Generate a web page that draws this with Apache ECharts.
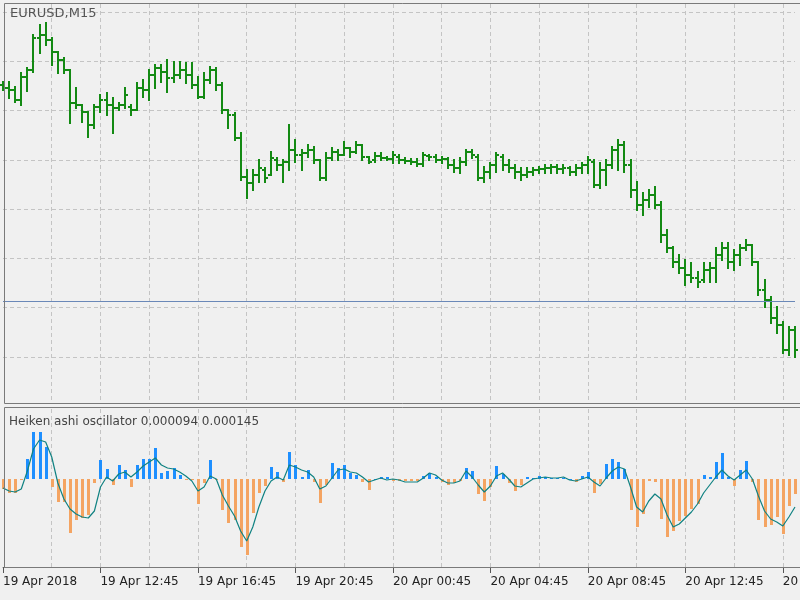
<!DOCTYPE html>
<html>
<head>
<meta charset="utf-8">
<title>EURUSD,M15</title>
<script src="https://cdn.jsdelivr.net/npm/echarts@6/dist/echarts.min.js"></script>
<style>
  html, body { margin: 0; padding: 0; background: #f0f0f0; }
  #chart { width: 800px; height: 600px; }
</style>
</head>
<body>
<div id="chart"></div>
<script>
// EURUSD M15 bars, 19 Apr 08:45 onwards
const opens = [
  1.23678, 1.23669, 1.23663, 1.23632, 1.23702, 1.23724, 1.23821, 1.23830, 1.23815, 1.23778,
  1.23754, 1.23724, 1.23623, 1.23617, 1.23596, 1.23556, 1.23611, 1.23632, 1.23617, 1.23608,
  1.23617, 1.23611, 1.23602, 1.23669, 1.23663, 1.23708, 1.23730, 1.23717, 1.23699, 1.23708,
  1.23724, 1.23708, 1.23678, 1.23641, 1.23693, 1.23724, 1.23678, 1.23602, 1.23587, 1.23517,
  1.23398, 1.23380, 1.23404, 1.23419, 1.23404, 1.23450, 1.23434, 1.23444, 1.23480, 1.23465,
  1.23471, 1.23480, 1.23450, 1.23395, 1.23456, 1.23474, 1.23465, 1.23486, 1.23474, 1.23495,
  1.23459, 1.23450, 1.23462, 1.23456, 1.23453, 1.23459, 1.23450, 1.23447, 1.23444, 1.23437,
  1.23462, 1.23459, 1.23450, 1.23453, 1.23434, 1.23425, 1.23444, 1.23474, 1.23459, 1.23395,
  1.23413, 1.23434, 1.23459, 1.23434, 1.23425, 1.23413, 1.23404, 1.23413, 1.23419, 1.23422,
  1.23425, 1.23428, 1.23422, 1.23425, 1.23413, 1.23425, 1.23434, 1.23444, 1.23374, 1.23419,
  1.23434, 1.23480, 1.23495, 1.23434, 1.23358, 1.23313, 1.23328, 1.23343, 1.23313, 1.23221,
  1.23182, 1.23139, 1.23121, 1.23100, 1.23091, 1.23084, 1.23115, 1.23121, 1.23161, 1.23182,
  1.23139, 1.23161, 1.23182, 1.23191, 1.23139, 1.23054, 1.23024, 1.22969, 1.22948, 1.22871,
  1.22932,
]
const highs = [
  1.23687, 1.23687, 1.23672, 1.23714, 1.23730, 1.23830, 1.23860, 1.23867, 1.23821, 1.23778,
  1.23760, 1.23724, 1.23669, 1.23617, 1.23596, 1.23617, 1.23647, 1.23654, 1.23638, 1.23623,
  1.23669, 1.23617, 1.23684, 1.23693, 1.23724, 1.23739, 1.23739, 1.23754, 1.23748, 1.23748,
  1.23745, 1.23745, 1.23702, 1.23714, 1.23733, 1.23730, 1.23684, 1.23602, 1.23593, 1.23532,
  1.23419, 1.23419, 1.23450, 1.23425, 1.23474, 1.23456, 1.23450, 1.23556, 1.23510, 1.23480,
  1.23495, 1.23489, 1.23450, 1.23471, 1.23486, 1.23480, 1.23504, 1.23486, 1.23504, 1.23495,
  1.23459, 1.23471, 1.23471, 1.23459, 1.23474, 1.23465, 1.23456, 1.23453, 1.23453, 1.23471,
  1.23465, 1.23465, 1.23459, 1.23456, 1.23450, 1.23456, 1.23480, 1.23480, 1.23465, 1.23428,
  1.23441, 1.23471, 1.23465, 1.23450, 1.23434, 1.23425, 1.23425, 1.23425, 1.23428, 1.23434,
  1.23434, 1.23434, 1.23434, 1.23428, 1.23434, 1.23441, 1.23459, 1.23450, 1.23441, 1.23450,
  1.23489, 1.23510, 1.23504, 1.23450, 1.23383, 1.23349, 1.23358, 1.23367, 1.23322, 1.23237,
  1.23185, 1.23161, 1.23145, 1.23136, 1.23109, 1.23136, 1.23136, 1.23182, 1.23197, 1.23197,
  1.23176, 1.23191, 1.23206, 1.23191, 1.23139, 1.23084, 1.23033, 1.23002, 1.22957, 1.22941,
  1.22941,
]
const lows = [
  1.23663, 1.23638, 1.23626, 1.23617, 1.23660, 1.23717, 1.23775, 1.23800, 1.23739, 1.23714,
  1.23714, 1.23562, 1.23608, 1.23565, 1.23520, 1.23547, 1.23596, 1.23587, 1.23532, 1.23602,
  1.23608, 1.23587, 1.23602, 1.23641, 1.23632, 1.23669, 1.23687, 1.23657, 1.23687, 1.23699,
  1.23684, 1.23669, 1.23638, 1.23638, 1.23684, 1.23663, 1.23593, 1.23547, 1.23510, 1.23389,
  1.23334, 1.23358, 1.23383, 1.23383, 1.23404, 1.23419, 1.23383, 1.23419, 1.23444, 1.23419,
  1.23459, 1.23441, 1.23389, 1.23389, 1.23450, 1.23450, 1.23465, 1.23459, 1.23471, 1.23450,
  1.23441, 1.23444, 1.23450, 1.23450, 1.23441, 1.23441, 1.23441, 1.23437, 1.23431, 1.23431,
  1.23450, 1.23444, 1.23441, 1.23425, 1.23413, 1.23410, 1.23434, 1.23456, 1.23389, 1.23383,
  1.23395, 1.23413, 1.23419, 1.23413, 1.23395, 1.23389, 1.23398, 1.23404, 1.23410, 1.23410,
  1.23410, 1.23410, 1.23410, 1.23404, 1.23404, 1.23410, 1.23410, 1.23367, 1.23364, 1.23374,
  1.23425, 1.23419, 1.23413, 1.23337, 1.23297, 1.23282, 1.23307, 1.23304, 1.23200, 1.23170,
  1.23124, 1.23106, 1.23069, 1.23078, 1.23063, 1.23078, 1.23078, 1.23078, 1.23145, 1.23121,
  1.23115, 1.23130, 1.23176, 1.23130, 1.23039, 1.23002, 1.22954, 1.22923, 1.22862, 1.22856,
  1.22850,
]
const closes = [
  1.23669, 1.23663, 1.23632, 1.23702, 1.23724, 1.23821, 1.23830, 1.23815, 1.23778, 1.23754,
  1.23724, 1.23623, 1.23617, 1.23596, 1.23556, 1.23611, 1.23632, 1.23617, 1.23608, 1.23617,
  1.23647, 1.23602, 1.23669, 1.23663, 1.23708, 1.23730, 1.23717, 1.23699, 1.23708, 1.23724,
  1.23708, 1.23678, 1.23641, 1.23693, 1.23724, 1.23678, 1.23602, 1.23587, 1.23517, 1.23398,
  1.23380, 1.23404, 1.23425, 1.23395, 1.23456, 1.23434, 1.23444, 1.23480, 1.23465, 1.23471,
  1.23480, 1.23450, 1.23395, 1.23456, 1.23474, 1.23465, 1.23486, 1.23474, 1.23495, 1.23459,
  1.23444, 1.23462, 1.23456, 1.23453, 1.23465, 1.23450, 1.23447, 1.23444, 1.23437, 1.23465,
  1.23459, 1.23450, 1.23453, 1.23434, 1.23425, 1.23444, 1.23474, 1.23465, 1.23395, 1.23413,
  1.23434, 1.23465, 1.23434, 1.23425, 1.23413, 1.23404, 1.23413, 1.23419, 1.23422, 1.23425,
  1.23428, 1.23422, 1.23425, 1.23413, 1.23425, 1.23434, 1.23450, 1.23374, 1.23419, 1.23434,
  1.23480, 1.23495, 1.23434, 1.23358, 1.23313, 1.23328, 1.23343, 1.23313, 1.23221, 1.23182,
  1.23139, 1.23121, 1.23100, 1.23091, 1.23078, 1.23115, 1.23121, 1.23161, 1.23182, 1.23139,
  1.23161, 1.23182, 1.23191, 1.23139, 1.23054, 1.23024, 1.22969, 1.22948, 1.22871, 1.22932,
  1.22871,
]
const bidLevel = 1.23021

// Heiken ashi oscillator: histogram + signal
const haHist = [
  -0.00010, -0.00014, -0.00014, -0.00001, 0.00020, 0.00047, 0.00047, 0.00032, -0.00008, -0.00023,
  -0.00023, -0.00054, -0.00041, -0.00039, -0.00036, -0.00004, 0.00019, 0.00010, -0.00006, 0.00014,
  0.00009, -0.00008, 0.00014, 0.00020, 0.00020, 0.00031, 0.00006, 0.00008, 0.00011, 0.00004,
  -0.00001, -0.00001, -0.00025, -0.00004, 0.00019, -0.00001, -0.00031, -0.00044, -0.00041, -0.00068,
  -0.00076, -0.00034, -0.00014, -0.00007, 0.00012, 0.00007, -0.00003, 0.00027, 0.00014, 0.00002,
  0.00009, -0.00003, -0.00024, -0.00006, 0.00016, 0.00011, 0.00014, 0.00006, 0.00004, -0.00003,
  -0.00011, 0.00000, 0.00002, 0.00002, -0.00002, -0.00002, -0.00002, -0.00002, -0.00002, 0.00003,
  0.00006, 0.00002, -0.00003, -0.00006, -0.00004, -0.00002, 0.00011, 0.00008, -0.00015, -0.00022,
  -0.00008, 0.00013, 0.00005, -0.00004, -0.00012, -0.00006, 0.00002, 0.00001, 0.00003, 0.00002,
  0.00001, 0.00001, 0.00001, 0.00000, -0.00003, 0.00003, 0.00007, -0.00014, -0.00005, 0.00015,
  0.00020, 0.00017, 0.00010, -0.00031, -0.00048, -0.00035, -0.00002, -0.00003, -0.00040, -0.00058,
  -0.00052, -0.00042, -0.00037, -0.00030, -0.00025, 0.00004, 0.00002, 0.00017, 0.00026, 0.00002,
  -0.00007, 0.00009, 0.00018, -0.00003, -0.00041, -0.00048, -0.00046, -0.00038, -0.00055, -0.00027,
  -0.00015,
]
const haSignal = [
  -0.00009, -0.00012, -0.00013, -0.00010, 0.00008, 0.00030, 0.00039, 0.00037, 0.00022, -0.00004,
  -0.00020, -0.00030, -0.00035, -0.00038, -0.00039, -0.00032, -0.00008, 0.00002, -0.00002, 0.00005,
  0.00007, 0.00002, 0.00007, 0.00013, 0.00017, 0.00021, 0.00014, 0.00011, 0.00010, 0.00007,
  0.00003, -0.00002, -0.00012, -0.00008, 0.00003, 0.00000, -0.00016, -0.00027, -0.00037, -0.00052,
  -0.00062, -0.00048, -0.00028, -0.00012, -0.00002, 0.00002, -0.00001, 0.00014, 0.00012, 0.00009,
  0.00007, 0.00002, -0.00010, -0.00007, 0.00001, 0.00009, 0.00010, 0.00007, 0.00006, 0.00002,
  -0.00003, -0.00001, 0.00001, -0.00001, 0.00000, -0.00001, -0.00003, -0.00003, -0.00003, 0.00001,
  0.00006, 0.00004, -0.00001, -0.00004, -0.00004, -0.00002, 0.00008, 0.00002, -0.00006, -0.00013,
  -0.00007, 0.00003, 0.00006, 0.00000, -0.00007, -0.00008, -0.00004, 0.00000, 0.00001, 0.00002,
  0.00001, 0.00001, 0.00002, -0.00001, -0.00002, 0.00000, 0.00002, -0.00003, -0.00007, 0.00001,
  0.00008, 0.00012, 0.00010, -0.00008, -0.00028, -0.00033, -0.00022, -0.00015, -0.00020, -0.00036,
  -0.00048, -0.00045, -0.00039, -0.00033, -0.00025, -0.00014, -0.00006, 0.00002, 0.00009, 0.00003,
  -0.00001, 0.00004, 0.00009, 0.00000, -0.00017, -0.00032, -0.00040, -0.00043, -0.00047, -0.00038,
  -0.00028,
]

const tickLabels = [
  '19 Apr 2018', '19 Apr 12:45', '19 Apr 16:45', '19 Apr 20:45', '20 Apr 00:45',
  '20 Apr 04:45', '20 Apr 08:45', '20 Apr 12:45', '20 Apr 16:45',
]

// bar open times, 15 minutes apart
const firstBar = Date.UTC(2018, 3, 19, 8, 45)
const barTimes = opens.map((_, i) => new Date(firstBar + i * 900000).toISOString().slice(0, 16))

const FONT = 'DejaVu Sans'
const barColor = '#138a13'
const upColor = '#1e8fff'
const downColor = '#f4a462'
const gridColor = '#c4c4c4'
const frameColor = '#7a7a7a'

function renderOhlc(params, api) {
  const i = api.value(0)
  const o = api.coord([i, api.value(1)])
  const c = api.coord([i, api.value(2)])
  const l = api.coord([i, api.value(3)])
  const h = api.coord([i, api.value(4)])
  const x = Math.round(h[0])
  const style = { stroke: barColor, lineWidth: 2 }
  return {
    type: 'group',
    children: [
      { type: 'line', shape: { x1: x, y1: Math.round(h[1]) - 1, x2: x, y2: Math.round(l[1]) + 1 }, style },
      { type: 'line', shape: { x1: x - 3, y1: Math.round(o[1]), x2: x, y2: Math.round(o[1]) }, style },
      { type: 'line', shape: { x1: x, y1: Math.round(c[1]), x2: x + 3, y2: Math.round(c[1]) }, style },
    ],
  }
}

// histogram columns, 3px wide, drawn from the zero line
function renderHist(params, api) {
  const v = api.value(1)
  const base = api.coord([api.value(0), 0])
  const end = api.coord([api.value(0), v])
  const x = Math.round(base[0]) - 1
  const y0 = Math.round(base[1])
  const y1 = Math.round(end[1])
  return {
    type: 'rect',
    shape: { x, y: Math.min(y0, y1), width: 3, height: Math.max(1, Math.abs(y1 - y0)) },
    style: { fill: v >= 0 ? upColor : downColor },
  }
}

const everyEight = (i) => i % 8 === 0 && i > 0
const everySixteen = (i) => i % 16 === 0

const chart = echarts.init(document.getElementById('chart'), null, { renderer: 'canvas' })

chart.setOption({
  animation: false,
  backgroundColor: '#f0f0f0',
  textStyle: { fontFamily: FONT },
  title: [
    {
      text: 'EURUSD,M15', left: 10, top: 7, padding: 0,
      textStyle: { fontFamily: FONT, fontSize: 13, fontWeight: 'normal', color: '#555555' },
    },
    {
      text: 'Heiken ashi oscillator 0.000094 0.000145', left: 9, top: 416, padding: 0,
      textStyle: { fontFamily: FONT, fontSize: 12, fontWeight: 'normal', color: '#444444' },
    },
  ],
  grid: [
    { left: 3, right: 5, top: 4, height: 400, outerBoundsMode: 'none', containLabel: false },
    { left: 3, right: 5, top: 12, height: 345, outerBoundsMode: 'none', containLabel: false },
    { left: 3, right: 5, top: 409, height: 158, outerBoundsMode: 'none', containLabel: false },
  ],
  xAxis: [
    {
      type: 'category', gridIndex: 0, data: barTimes, boundaryGap: false,
      axisLine: { show: false, onZero: false }, axisTick: { show: false }, axisLabel: { show: false },
      splitLine: { show: true, interval: everyEight, lineStyle: { color: gridColor, type: [4, 3] } },
    },
    { type: 'category', gridIndex: 1, data: barTimes, boundaryGap: false, show: false },
    {
      type: 'category', gridIndex: 2, data: barTimes, boundaryGap: false,
      axisLine: { onZero: false, lineStyle: { color: frameColor } },
      axisTick: { interval: everySixteen, length: 6, lineStyle: { color: '#555555' } },
      axisLabel: {
        interval: everySixteen,
        formatter: (v, i) => tickLabels[i / 16],
        align: 'left', margin: 9, fontFamily: FONT, fontSize: 12, color: '#222222',
      },
      splitLine: { show: true, interval: everyEight, lineStyle: { color: gridColor, type: [4, 3] } },
    },
  ],
  yAxis: [
    { type: 'value', gridIndex: 0, show: false, min: 0, max: 1 },
    {
      type: 'value', gridIndex: 1, min: 1.2285, max: 1.2390, interval: 0.0015,
      axisLine: { show: false }, axisTick: { show: false }, axisLabel: { show: false },
      splitLine: { show: true, lineStyle: { color: gridColor, type: [4, 3] } },
    },
    { type: 'value', gridIndex: 2, show: false, min: -0.00088, max: 0.00070 },
  ],
  series: [
    {
      type: 'custom',
      name: 'EURUSD',
      xAxisIndex: 1,
      yAxisIndex: 1,
      renderItem: renderOhlc,
      encode: { x: 0, y: [1, 2, 3, 4] },
      data: opens.map((o, i) => [i, o, closes[i], lows[i], highs[i]]),
      markLine: {
        silent: true,
        symbol: 'none',
        precision: 5,
        label: { show: false },
        lineStyle: { color: '#6a88b8', width: 1, type: 'solid' },
        data: [{ yAxis: bidLevel }],
      },
    },
    {
      type: 'custom',
      name: 'histogram',
      xAxisIndex: 2,
      yAxisIndex: 2,
      renderItem: renderHist,
      encode: { x: 0, y: 1 },
      data: haHist.map((v, i) => [i, v]),
    },
    {
      type: 'line',
      name: 'signal',
      xAxisIndex: 2,
      yAxisIndex: 2,
      data: haSignal,
      symbol: 'none',
      lineStyle: { color: '#108282', width: 1.2 },
      z: 3,
    },
  ],
  graphic: [
    {
      type: 'rect', silent: true, z: 10,
      shape: { x: 4.5, y: 3.5, width: 800, height: 400 },
      style: { fill: 'none', stroke: frameColor, lineWidth: 1 },
    },
    {
      type: 'rect', silent: true, z: 10,
      shape: { x: 4.5, y: 407.5, width: 800, height: 160 },
      style: { fill: 'none', stroke: frameColor, lineWidth: 1 },
    },
  ],
})
</script>
</body>
</html>
